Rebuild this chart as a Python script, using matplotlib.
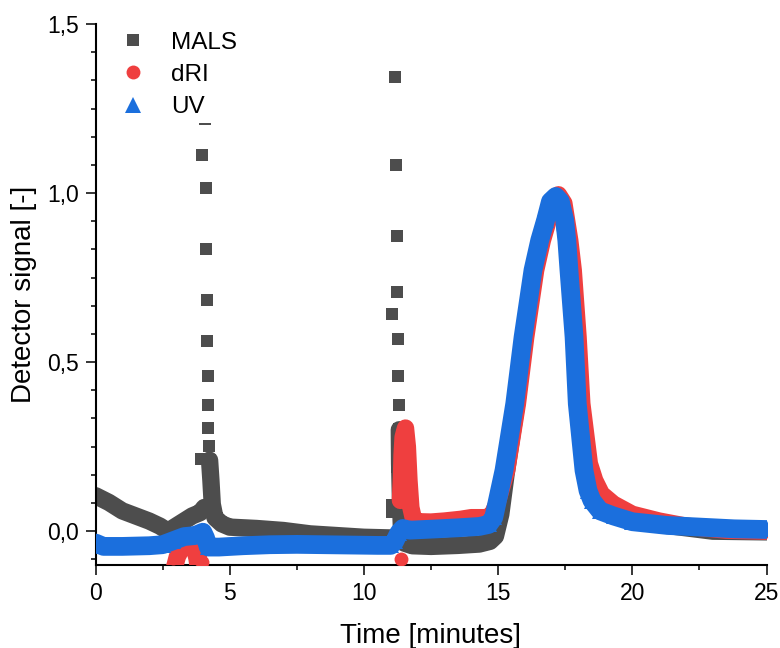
import matplotlib
matplotlib.use("Agg")
import matplotlib.pyplot as plt
from matplotlib.lines import Line2D
from matplotlib.ticker import MultipleLocator, FuncFormatter

plt.rcParams["font.family"] = ["Liberation Sans", "DejaVu Sans"]

# MALS trace (dense part), split where the spikes are
mals_a_t = [0.0, 0.5, 1.0, 1.5, 2.0, 2.4, 2.7, 3.0, 3.3, 3.6, 3.9, 4.05]
mals_a_y = [0.105, 0.085, 0.06, 0.045, 0.03, 0.015, 0.0, 0.015, 0.03, 0.045, 0.055, 0.07]
mals_b_t = [4.25, 4.3, 4.35, 4.45, 4.7, 5.0, 6.0, 7.0, 8.0, 9.0, 10.0, 11.0]
mals_b_y = [0.21, 0.15, 0.08, 0.04, 0.022, 0.012, 0.008, 0.002, -0.008, -0.013, -0.018, -0.02]
mals_c_t = [11.32, 11.33, 11.36, 11.4, 11.5, 11.8, 12.5, 13.5, 14.3, 14.7, 14.9, 15.1,
            15.3, 15.7, 16.0, 16.35, 16.6, 16.8, 17.0, 17.15, 17.35, 17.55, 17.68, 17.87,
            18.0, 18.25, 18.45, 18.8, 20.0, 21.5, 23.0, 25.0]
mals_c_y = [0.3, 0.2, 0.1, 0.0, -0.035, -0.043, -0.045, -0.042, -0.038, -0.03, -0.015, 0.05,
            0.17, 0.38, 0.58, 0.78, 0.87, 0.93, 0.975, 0.99, 0.97, 0.87, 0.76, 0.56,
            0.37, 0.18, 0.1, 0.07, 0.03, 0.015, 0.0, -0.002]
# MALS isolated spike points
mals_spike_t = [4.09, 3.96, 4.11, 4.12, 4.15, 4.16, 4.18, 4.19, 4.21, 4.22, 3.94, 4.27,
                11.17, 11.2, 11.22, 11.24, 11.03, 11.26, 11.28, 11.29, 11.32, 11.32,
                11.33, 11.33, 11.33, 11.03, 11.05, 11.23]
mals_spike_y = [1.218, 1.114, 1.014, 0.834, 0.685, 0.562, 0.458, 0.374, 0.306, 0.251, 0.214, 0.207,
                1.344, 1.083, 0.874, 0.706, 0.641, 0.569, 0.459, 0.374, 0.303, 0.249,
                0.204, 0.16, 0.12, 0.076, 0.056, 0.19]

# dRI
dri_a_t = [2.9, 3.05, 3.25, 3.45, 3.6, 3.7, 3.78, 3.85]
dri_a_y = [-0.12, -0.075, -0.045, -0.035, -0.04, -0.055, -0.08, -0.12]
dri_dots_t = [3.9, 3.95, 11.39]
dri_dots_y = [-0.066, -0.09, -0.082]
dri_b_t = [11.36, 11.4, 11.42, 11.46, 11.55, 11.62, 11.68, 11.75, 11.85, 12.0, 12.5, 13.0,
           13.6, 14.0, 14.5, 14.75, 14.95, 15.32, 15.72, 16.03, 16.4, 16.65, 16.87, 17.05,
           17.25, 17.45, 17.67, 17.8, 17.98, 18.12, 18.4, 18.6, 18.85, 19.3, 20.0, 21.0,
           22.0, 23.5, 25.0]
dri_b_y = [0.091, 0.16, 0.224, 0.278, 0.305, 0.25, 0.15, 0.07, 0.035, 0.028, 0.027, 0.03,
           0.035, 0.04, 0.04, 0.045, 0.08, 0.18, 0.377, 0.574, 0.772, 0.86, 0.92, 0.97,
           0.995, 0.97, 0.86, 0.772, 0.574, 0.377, 0.2, 0.15, 0.11, 0.08, 0.05, 0.03,
           0.015, 0.003, 0.0]

# UV
uv_t = [0.0, 0.3, 1.0, 2.0, 2.5, 2.9, 3.3, 3.7, 4.0, 4.1, 4.2, 4.6, 5.5, 6.5, 7.5, 8.5,
        9.5, 10.5, 11.0, 11.15, 11.3, 11.45, 11.7, 12.5, 13.5, 14.3, 14.65, 14.84,
        15.22, 15.62, 15.93, 16.3, 16.55, 16.77, 16.95, 17.15, 17.32, 17.48, 17.56,
        17.64, 17.83, 17.95, 18.2, 18.35, 18.5, 18.8, 19.3, 20.0, 21.3, 23.8, 25.0]
uv_y = [-0.035, -0.045, -0.045, -0.043, -0.04, -0.028, -0.016, -0.013, -0.003, -0.02, -0.047,
        -0.047, -0.043, -0.04, -0.039, -0.04, -0.041, -0.042, -0.042, -0.03, -0.005, 0.008,
        0.003, 0.006, 0.01, 0.014, 0.02, 0.041, 0.18, 0.377, 0.574, 0.772, 0.86, 0.92,
        0.975, 0.99, 0.975, 0.92, 0.86, 0.772, 0.574, 0.377, 0.18, 0.12, 0.09, 0.06,
        0.045, 0.028, 0.017, 0.007, 0.005]

GRAY = "#4d4d4d"
RED = "#ef3f3f"
BLUE = "#1b6fdd"

fig = plt.figure(figsize=(7.8, 6.48), dpi=100)
ax = fig.add_axes([95.5 / 780, 1 - 565 / 648, 671 / 780, 541 / 648])


def band(t, y, color, marker, ms, lw, z):
    ax.plot(t, y, color=color, lw=lw, marker=marker, ms=ms, mew=0,
            solid_joinstyle="round", solid_capstyle="round", zorder=z)


for t, y in [(mals_a_t, mals_a_y), (mals_b_t, mals_b_y), (mals_c_t, mals_c_y)]:
    band(t, y, GRAY, "s", 9, 12.5, 2)
ax.plot(mals_spike_t, mals_spike_y, ls="none", marker="s", ms=8.7, mew=0, color=GRAY, zorder=2)

band(dri_a_t, dri_a_y, RED, "o", 10, 12.5, 3)
band(dri_b_t, dri_b_y, RED, "o", 10, 12.5, 3)
ax.plot(dri_dots_t, dri_dots_y, ls="none", marker="o", ms=10, mew=0, color=RED, zorder=3)

band(uv_t, uv_y, BLUE, "^", 12, 13.5, 4)

ax.set_xlim(0, 25)
ax.set_ylim(-0.1, 1.5)
for s in ("top", "right"):
    ax.spines[s].set_visible(False)
for s in ("left", "bottom"):
    ax.spines[s].set_linewidth(1.5)

ax.xaxis.set_major_locator(MultipleLocator(5))
ax.xaxis.set_minor_locator(MultipleLocator(2.5))
ax.yaxis.set_major_locator(MultipleLocator(0.5))
ax.yaxis.set_minor_locator(MultipleLocator(0.5 / 6))
ax.yaxis.set_major_formatter(FuncFormatter(lambda v, p: f"{v:.1f}".replace(".", ",")))
ax.tick_params(which="major", length=7, width=1.1, labelsize=16.5, pad=5)
ax.tick_params(which="minor", length=3.6, width=1.1)

ax.set_xlabel("Time [minutes]", fontsize=20, labelpad=13)
ax.set_ylabel("Detector signal [-]", fontsize=20, labelpad=7)

handles = [
    Line2D([], [], ls="none", marker="s", ms=9, mew=0, color=GRAY),
    Line2D([], [], ls="none", marker="o", ms=10, mew=0, color=RED),
    Line2D([], [], ls="none", marker="^", ms=11.5, mew=0, color=BLUE),
]
leg = ax.legend(handles, ["MALS", "dRI", "UV"], loc="upper left",
                bbox_to_anchor=(0.031, 0.995), borderaxespad=0, borderpad=0.2,
                fontsize=17.5, handlelength=1.0, handletextpad=1.07,
                labelspacing=0.42, frameon=True, fancybox=False,
                facecolor="white", edgecolor="none", framealpha=1)
leg.set_zorder(10)

fig.savefig("out.png", dpi=100)
